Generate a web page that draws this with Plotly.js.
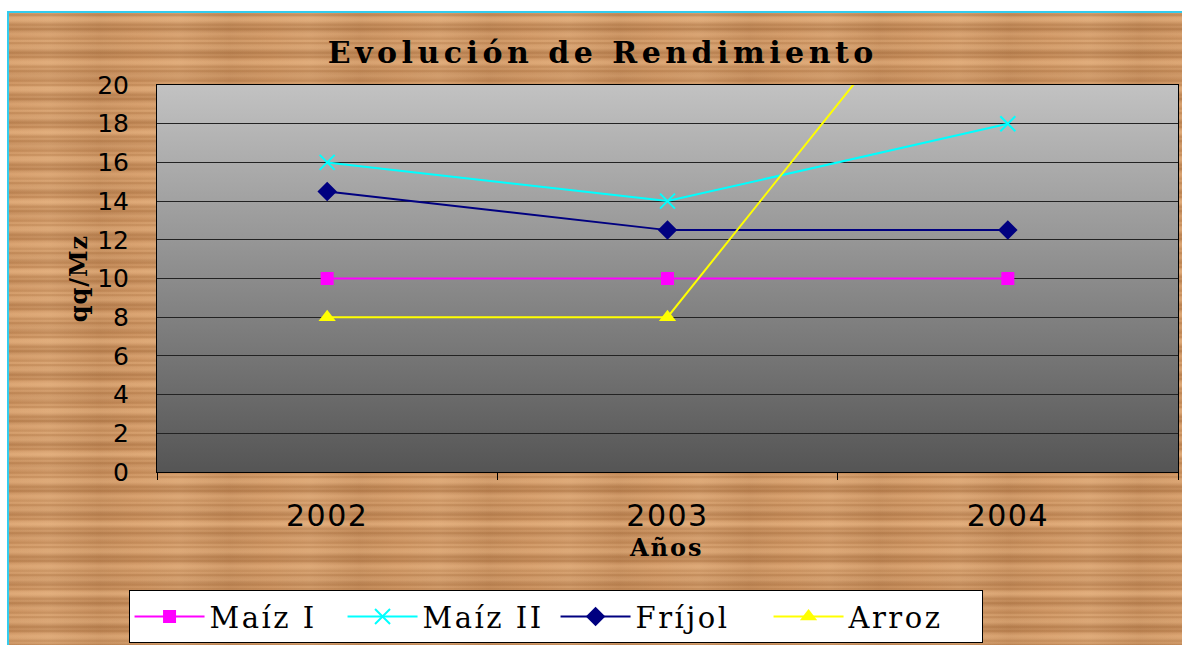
<!DOCTYPE html>
<html>
<head>
<meta charset="utf-8">
<script src="https://cdn.plot.ly/plotly-3.0.1.min.js"></script>
<style>
  html, body { margin:0; padding:0; background:#ffffff; width:1182px; height:645px; overflow:hidden; }
  #frame {
    position:absolute; left:7px; top:11px; width:1180px; height:640px;
    border-top:2px solid #33ccee; border-left:2px solid #33ccee;
    background-color:#d29a68;
    background-image:
      repeating-linear-gradient(180deg, rgba(150,90,40,0.0) 0px, rgba(150,90,40,0.35) 2px, rgba(150,90,40,0.0) 4px, rgba(240,190,140,0.25) 7px, rgba(150,90,40,0.0) 9px, rgba(140,80,30,0.25) 12px, rgba(150,90,40,0.0) 14px),
      repeating-linear-gradient(180deg, rgba(255,210,160,0.0) 0px, rgba(255,210,160,0.2) 5px, rgba(120,70,30,0.15) 17px, rgba(255,210,160,0.0) 23px),
      repeating-linear-gradient(90deg, rgba(255,220,180,0.0) 0px, rgba(255,220,180,0.12) 40px, rgba(120,70,30,0.10) 90px, rgba(255,220,180,0.0) 130px);
  }
  #chart { position:absolute; left:0; top:0; width:1182px; height:645px; }
  #chart .gtitle { letter-spacing: 4.5px; }
  #chart .legendtext { letter-spacing: 2.5px; }
  #chart .annotation-text { letter-spacing: 2px; }
  #chart .ytitle { letter-spacing: 1px; }
  #chart .xtick text { letter-spacing: 1.5px; }
</style>
</head>
<body>
<div id="frame"></div>
<div id="chart"></div>
<script>
const years = ['2002', '2003', '2004'];
const maizI  = [10, 10, 10];
const maizII = [16, 14, 18];
const frijol = [14.5, 12.5, 12.5];
const arroz  = [8, 8, 30];
const yTicks = [0, 2, 4, 6, 8, 10, 12, 14, 16, 18, 20];

const gradSvg = '<svg xmlns="http://www.w3.org/2000/svg" width="100" height="100" preserveAspectRatio="none">' +
  '<defs><linearGradient id="g" x1="0" y1="0" x2="0" y2="1">' +
  '<stop offset="0" stop-color="#c2c2c2"/><stop offset="1" stop-color="#555555"/></linearGradient></defs>' +
  '<rect width="100" height="100" fill="url(#g)"/></svg>';
const gradUri = 'data:image/svg+xml;charset=utf-8,' + encodeURIComponent(gradSvg);

const traces = [
  {name:'Maíz I', x:years, y:maizI, mode:'lines+markers',
   line:{color:'#ff00ff', width:2}, marker:{symbol:'square', size:13, color:'#ff00ff'}},
  {name:'Maíz II', x:years, y:maizII, mode:'lines+markers',
   line:{color:'#00ffff', width:2}, marker:{symbol:'x-thin', size:15, color:'#00ffff', line:{color:'#00ffff', width:2}}},
  {name:'Fríjol', x:years, y:frijol, mode:'lines+markers',
   line:{color:'#000080', width:2}, marker:{symbol:'diamond', size:15, color:'#000080'}},
  {name:'Arroz', x:years, y:arroz, mode:'lines+markers',
   line:{color:'#ffff00', width:2}, marker:{symbol:'triangle-up', size:15, color:'#ffff00'}}
];

const layout = {
  width:1182, height:645,
  margin:{l:157, r:4, t:85, b:173},
  paper_bgcolor:'rgba(0,0,0,0)',
  plot_bgcolor:'rgba(0,0,0,0)',
  showlegend:true,
  title:{text:'<b>Evolución de Rendimiento</b>', font:{family:'DejaVu Serif', size:30, color:'#000'},
         x:0.51, xref:'container', y:0.918, yref:'container', xanchor:'center', yanchor:'middle'},
  xaxis:{type:'category', range:[-0.5, 2.5], tickson:'boundaries', ticks:'outside', ticklen:7,
         tickcolor:'#000', showline:true, linecolor:'#000', linewidth:1, mirror:true, showgrid:false,
         tickfont:{family:'DejaVu Sans', size:30, color:'#000'}, ticklabelstandoff:17,
         fixedrange:true, zeroline:false, automargin:false},
  yaxis:{range:[0, 20], tickvals:yTicks, ticktext:yTicks.map(String), showgrid:true, gridcolor:'#222', gridwidth:1,
         showline:true, linecolor:'#000', linewidth:1, mirror:true, zeroline:false, ticks:'',
         tickfont:{family:'DejaVu Sans', size:25, color:'#000'}, ticklabelstandoff:22,
         title:{text:'<b>qq/Mz</b>', font:{family:'DejaVu Serif', size:24, color:'#000'}, standoff:2},
         fixedrange:true, automargin:false},
  annotations:[{text:'<b>Años</b>', xref:'paper', yref:'paper', x:0.4995, y:-0.195,
                xanchor:'center', yanchor:'middle', showarrow:false,
                font:{family:'DejaVu Serif', size:24, color:'#000'}}],
  legend:{orientation:'h', xref:'container', yref:'container', x:0.470, xanchor:'center', y:0.085, yanchor:'top',
          bgcolor:'#ffffff', bordercolor:'#000', borderwidth:1, entrywidth:128,
          font:{family:'DejaVu Serif', size:29, color:'#000'}, itemwidth:70, traceorder:'normal'},
  images:[{source:gradUri, xref:'paper', yref:'paper', x:0, y:1, sizex:1, sizey:1,
           xanchor:'left', yanchor:'top', sizing:'stretch', layer:'below'}]
};

Plotly.newPlot('chart', traces, layout, {displayModeBar:false, staticPlot:true});
</script>
</body>
</html>
